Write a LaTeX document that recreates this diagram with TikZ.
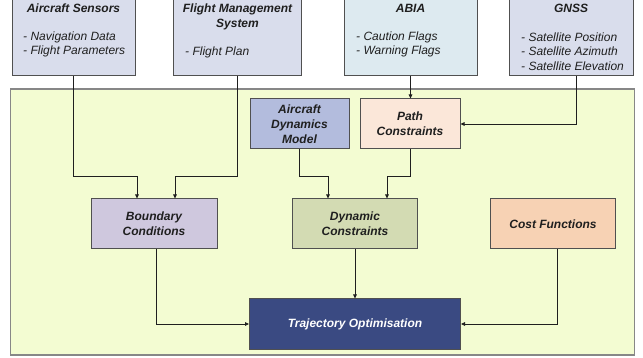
\documentclass[tikz,border=0pt]{standalone}
\usepackage{fontspec}
\setmainfont{Liberation Sans}
\usetikzlibrary{arrows.meta,positioning}
\definecolor{trajInk}{HTML}{1F1F1F}
\definecolor{trajEdge}{HTML}{505050}
\definecolor{trajFrameEdge}{HTML}{878787}
\definecolor{trajFrame}{HTML}{F3FCD2}
\definecolor{trajLav}{HTML}{D9DDEC}
\definecolor{trajSky}{HTML}{DDEAF0}
\definecolor{trajPeri}{HTML}{B3BCDD}
\definecolor{trajBlush}{HTML}{FBE7D9}
\definecolor{trajLilac}{HTML}{CFC8DE}
\definecolor{trajSage}{HTML}{D3DBB3}
\definecolor{trajPeach}{HTML}{F7D2B4}
\definecolor{trajNavy}{HTML}{3A4A82}
\tikzset{
  every picture/.style={text=trajInk},
  traj frame/.style={draw=trajFrameEdge, line width=1.3pt, fill=trajFrame,
    minimum width=624pt, minimum height=266pt, inner sep=0pt},
  traj source/.style={draw=trajEdge, line width=1pt, minimum width=123pt,
    minimum height=92pt, inner sep=0pt},
  traj block/.style={draw=trajEdge, line width=1pt, align=center,
    minimum height=50pt, inner sep=2pt,
    font=\fontsize{12}{15}\selectfont\bfseries\itshape},
  traj title/.style={align=center, inner sep=0pt,
    font=\fontsize{12}{15}\selectfont\bfseries\itshape},
  traj list/.style={align=left, inner sep=0pt,
    font=\fontsize{12}{14.5}\selectfont\itshape},
  traj flow/.style={-{Triangle[length=4pt,width=3.6pt]}, draw=trajInk,
    line width=0.8pt}
}
\begin{document}
\begin{tikzpicture}[x=1pt,y=-1pt]
  \useasboundingbox (0,0) rectangle (643,358);
  \clip (0,0) rectangle (643,358);
  % outer frame
  \node[traj frame] (frame) at (322.5,222) {};
  % data sources
  \node[traj source, fill=trajLav] (sensors) at (73.5,30) {};
  \node[traj source, fill=trajLav, minimum width=128pt] (fms) at (237.5,30) {};
  \node[traj source, fill=trajSky, minimum width=133pt] (abia) at (410.5,30) {};
  \node[traj source, fill=trajLav, minimum width=124pt] (gnss) at (571,30) {};
  \node[traj title] (sensorsT) at (73.5,8) {Aircraft Sensors};
  \node[traj title, anchor=north] (fmsT) at (237.5,3.5) {Flight Management\\System};
  \node[traj title] (abiaT) at (410.5,8) {ABIA};
  \node[traj title] (gnssT) at (571,8) {GNSS};
  \node[traj list, anchor=west] (sensorsL) at (23,44.5) {- Navigation Data\\- Flight Parameters};
  \node[traj list, anchor=west] (fmsL) at (185,52) {- Flight Plan};
  \node[traj list, anchor=west] (abiaL) at (356,44.5) {- Caution Flags\\- Warning Flags};
  \node[traj list, anchor=west] (gnssL) at (521,51.5) {- Satellite Position\\- Satellite Azimuth\\- Satellite Elevation};
  % optimisation blocks
  \node[traj block, fill=trajPeri, minimum width=99pt] (model) at (299.5,124) {Aircraft\\Dynamics\\Model};
  \node[traj block, fill=trajBlush, minimum width=100pt] (path) at (410,124) {Path\\Constraints};
  \node[traj block, fill=trajLilac, minimum width=126pt] (boundary) at (154,224) {Boundary\\Conditions};
  \node[traj block, fill=trajSage, minimum width=125pt] (dynamic) at (355,224) {Dynamic\\Constraints};
  \node[traj block, fill=trajPeach, minimum width=125pt] (cost) at (553,224) {Cost Functions};
  \node[traj block, fill=trajNavy, text=white, minimum width=211pt] (traj) at (355,324) {Trajectory Optimisation};
  % connectors
  \draw[traj flow] (sensors.south) -- ++(0,100) -| ([xshift=-17pt]boundary.north);
  \draw[traj flow] (fms.south) -- ++(0,100) -| ([xshift=21pt]boundary.north);
  \draw[traj flow] (abia.south) -- (abia.south |- path.north);
  \draw[traj flow] ([xshift=5pt]gnss.south) |- (path.east);
  \draw[traj flow] (model.south) -- ++(0,27) -| ([xshift=-27pt]dynamic.north);
  \draw[traj flow] (path.south) -- ++(0,27) -| ([xshift=32pt]dynamic.north);
  \draw[traj flow] ([xshift=2pt]boundary.south) |- (traj.west);
  \draw[traj flow] (dynamic.south) -- (traj.north);
  \draw[traj flow] ([xshift=4pt]cost.south) |- (traj.east);
\end{tikzpicture}
\end{document}
